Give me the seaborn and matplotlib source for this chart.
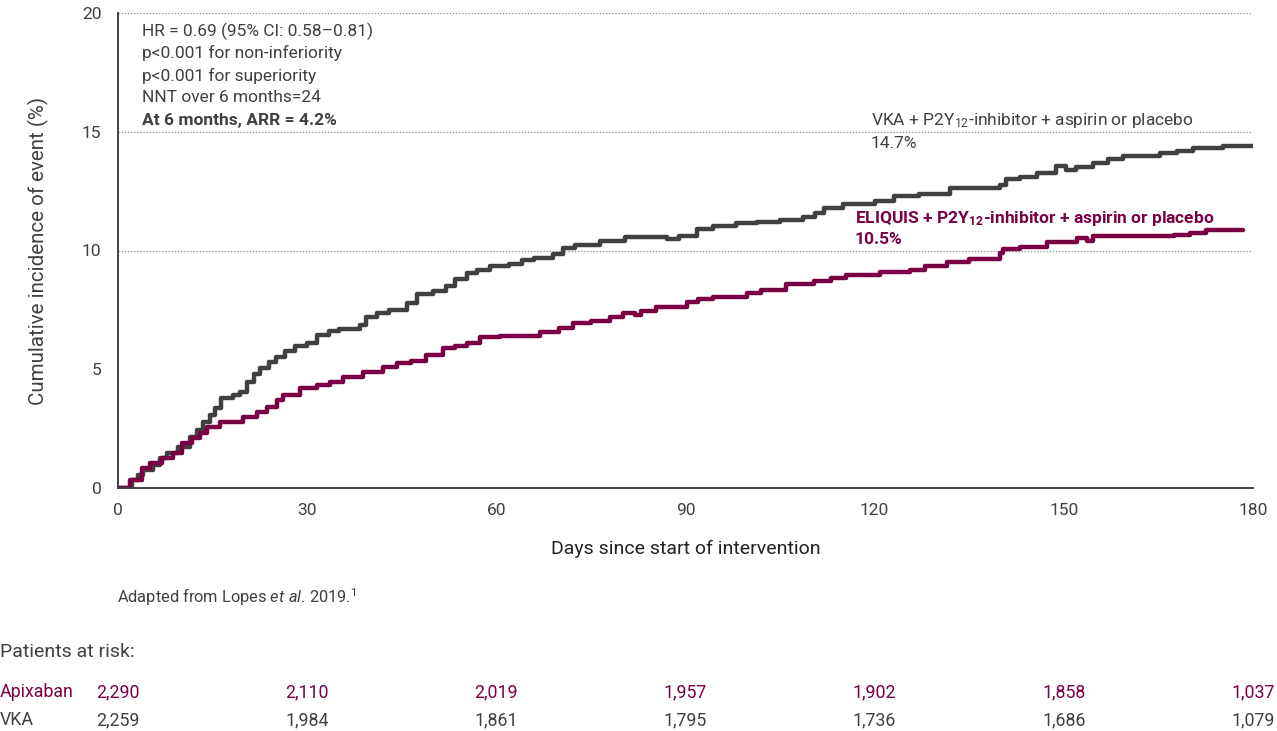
import matplotlib
matplotlib.use("Agg")
import matplotlib.pyplot as plt
import matplotlib.transforms as mtrans
import seaborn as sns
import pandas as pd

# ---------------- data ----------------
vka_days = [0, 2.2, 3.2, 4.0, 5.6, 6.7, 7.7, 9.5, 11.4, 12.5, 13.5, 14.6, 15.4, 16.4, 18.2,
            19.3, 20.4, 21.5, 22.5, 24.0, 25.0, 26.5, 28.0, 30.0, 31.5, 33.5, 35.0, 38.4,
            39.4, 41.0, 43.0, 45.8, 47.4, 50.0, 52.0, 53.5, 55.3, 57.0, 59.0, 62.0, 64.0,
            66.0, 69.0, 70.5, 72.5, 76.5, 80.4, 86.0, 87.0, 89.0, 91.8, 94.4, 98.0, 101.3,
            105.0, 108.7, 110.5, 112.0, 115.0, 120.0, 123.0, 127.0, 131.9, 139.9, 140.9,
            143.0, 145.7, 148.8, 150.4, 152.0, 154.7, 157.0, 159.4, 165.2, 168.0, 170.5,
            175.3, 180.0]
vka_pct = [0, 0.34, 0.55, 0.76, 0.97, 1.26, 1.47, 1.74, 2.16, 2.44, 2.79, 3.07, 3.36, 3.80, 3.90,
           4.05, 4.48, 4.80, 5.04, 5.30, 5.50, 5.75, 6.00, 6.10, 6.44, 6.60, 6.70, 6.86,
           7.20, 7.35, 7.50, 7.80, 8.15, 8.30, 8.50, 8.80, 9.05, 9.20, 9.35, 9.45, 9.60,
           9.70, 9.85, 10.10, 10.25, 10.40, 10.57, 10.55, 10.48, 10.60, 10.90, 11.05, 11.15, 11.20,
           11.30, 11.40, 11.60, 11.80, 11.95, 12.10, 12.30, 12.40, 12.62, 12.76, 13.00,
           13.10, 13.25, 13.55, 13.40, 13.50, 13.67, 13.85, 14.00, 14.10, 14.20, 14.30,
           14.40, 14.40]

api_days = [0, 1.9, 3.8, 5.1, 6.9, 8.8, 10.1, 11.7, 13.0, 14.1, 16.2, 19.9, 22.0, 23.6, 25.2,
            26.2, 28.9, 31.5, 33.6, 35.7, 38.9, 42.0, 44.2, 46.5, 48.9, 51.5, 53.5, 55.3,
            57.4, 60.6, 67.0, 70.0, 72.2, 75.0, 78.0, 80.1, 82.0, 83.0, 85.4, 90.2, 92.0,
            94.4, 99.7, 102.0, 106.0, 110.3, 113.0, 115.5, 120.8, 125.6, 128.0, 131.4, 135.0,
            139.9, 140.4, 143.0, 147.3, 152.1, 153.6, 154.7, 167.4, 170.0, 172.6, 178.4]
api_pct = [0, 0.34, 0.83, 1.04, 1.25, 1.46, 1.88, 2.09, 2.30, 2.58, 2.79, 3.00, 3.21, 3.42, 3.70,
           3.92, 4.20, 4.34, 4.48, 4.69, 4.90, 5.10, 5.25, 5.35, 5.60, 5.90, 6.00, 6.10,
           6.35, 6.42, 6.55, 6.75, 6.93, 7.05, 7.20, 7.35, 7.30, 7.45, 7.63, 7.84, 7.95,
           8.05, 8.20, 8.35, 8.60, 8.70, 8.85, 8.97, 9.10, 9.18, 9.35, 9.50, 9.65,
           9.88, 10.05, 10.15, 10.37, 10.51, 10.42, 10.60, 10.65, 10.75, 10.86, 10.86]

x_ticks = [0, 30, 60, 90, 120, 150, 180]
y_ticks = [0, 5, 10, 15, 20]
grid_levels = [10, 15, 20]
risk_apixaban = ["2,290", "2,110", "2,019", "1,957", "1,902", "1,858", "1,037"]
risk_vka = ["2,259", "1,984", "1,861", "1,795", "1,736", "1,686", "1,079"]

annot_lines = ["HR = 0.69 (95% CI: 0.58\u20130.81)", "p<0.001 for non-inferiority",
               "p<0.001 for superiority", "NNT over 6 months=24"]
annot_bold = "At 6 months, ARR = 4.2%"

GRAY = "#404040"
PURPLE = "#7a0046"
FONT = "Roboto"

# ---------------- style ----------------
sns.set_theme(style="white")
plt.rcParams["font.family"] = [FONT, "DejaVu Sans"]
plt.rcParams["mathtext.fontset"] = "custom"
plt.rcParams["mathtext.rm"] = FONT
plt.rcParams["mathtext.it"] = FONT + ":italic"
plt.rcParams["mathtext.bf"] = FONT + ":bold"

W, H = 1277, 731
fig = plt.figure(figsize=(W / 100, H / 100), dpi=100)
fig.patch.set_facecolor("white")

def fx(px):
    return px / W

def fy(py):
    return 1 - py / H

ax_l, ax_r, ax_t, ax_b = 118, 1253, 13, 488
ax = fig.add_axes([fx(ax_l), fy(ax_b), fx(ax_r - ax_l), (ax_b - ax_t) / H])

df = pd.concat([
    pd.DataFrame({"day": vka_days, "pct": vka_pct, "arm": "VKA"}),
    pd.DataFrame({"day": api_days, "pct": api_pct, "arm": "Apixaban"}),
])

for lvl in grid_levels:
    ax.axhline(lvl, color="#8a8a8a", lw=0.9, ls=(0, (1, 1.5)), zorder=0)

sns.lineplot(data=df, x="day", y="pct", hue="arm", palette={"VKA": GRAY, "Apixaban": PURPLE},
             hue_order=["VKA", "Apixaban"], drawstyle="steps-post", lw=3.2, legend=False,
             ax=ax, estimator=None, sort=False, zorder=3)

ax.set_xlim(0, 180)
ax.set_ylim(0, 20)
ax.set_xticks(x_ticks)
ax.set_yticks(y_ticks)
ax.set_xlabel("")
ax.set_ylabel("")
for s in ["top", "right"]:
    ax.spines[s].set_visible(False)
for s in ["left", "bottom"]:
    ax.spines[s].set_color(GRAY)
    ax.spines[s].set_linewidth(1.4)
    ax.spines[s].set_zorder(5)
ax.tick_params(axis="both", direction="out", length=6, width=1.2, color=GRAY,
               labelcolor=GRAY, labelsize=12.5, pad=5)
ax.tick_params(axis="y", pad=6)

# axis labels
fig.text(fx(686), fy(549), "Days since start of intervention", ha="center", va="center",
         fontsize=14, color="#222222")
fig.text(fx(38), fy(251), "Cumulative incidence of event (%)", ha="center", va="center",
         rotation=90, fontsize=14.8, color=GRAY)

# annotation block
ys = [31, 53, 76, 98]
for t, y in zip(annot_lines, ys):
    fig.text(fx(142), fy(y), t, ha="left", va="center", fontsize=12.5, color=GRAY)
fig.text(fx(142), fy(121), annot_bold, ha="left", va="center", fontsize=12.5,
         color=GRAY, fontweight="bold")

# curve labels
fig.text(fx(871), fy(121), r"VKA + P2Y$_{\mathregular{12}}$-inhibitor + aspirin or placebo",
         ha="left", va="center", fontsize=12.5, color=GRAY)
fig.text(fx(871), fy(143), "14.7%", ha="left", va="center", fontsize=12.5, color=GRAY)
fig.text(fx(855), fy(218), r"ELIQUIS + P2Y$_{\mathbf{12}}$-inhibitor + aspirin or placebo",
         ha="left", va="center", fontsize=12.5, color=PURPLE, fontweight="bold")
fig.text(fx(855), fy(240), "10.5%", ha="left", va="center", fontsize=12.5, color=PURPLE,
         fontweight="bold")

# source
fig.text(fx(117), fy(597), r"Adapted from Lopes $\mathit{et\ al}$. 2019.$^{\mathregular{1}}$",
         ha="left", va="center", fontsize=11.8, color=GRAY)

# patients at risk
fig.text(fx(0), fy(652), "Patients at risk:", ha="left", va="center", fontsize=14, color=GRAY)
fig.text(fx(0), fy(692), "Apixaban", ha="left", va="center", fontsize=12.8, color=PURPLE)
fig.text(fx(0), fy(720), "VKA", ha="left", va="center", fontsize=12.8, color=GRAY)
trans = mtrans.blended_transform_factory(ax.transData, fig.transFigure)
for d, a, v in zip(x_ticks, risk_apixaban, risk_vka):
    fig.text(d, fy(692), a, ha="center", va="center", fontsize=12.8, color=PURPLE,
             transform=trans)
    fig.text(d, fy(720), v, ha="center", va="center", fontsize=12.8, color=GRAY,
             transform=trans)

fig.savefig("out.png", dpi=100, facecolor="white")
